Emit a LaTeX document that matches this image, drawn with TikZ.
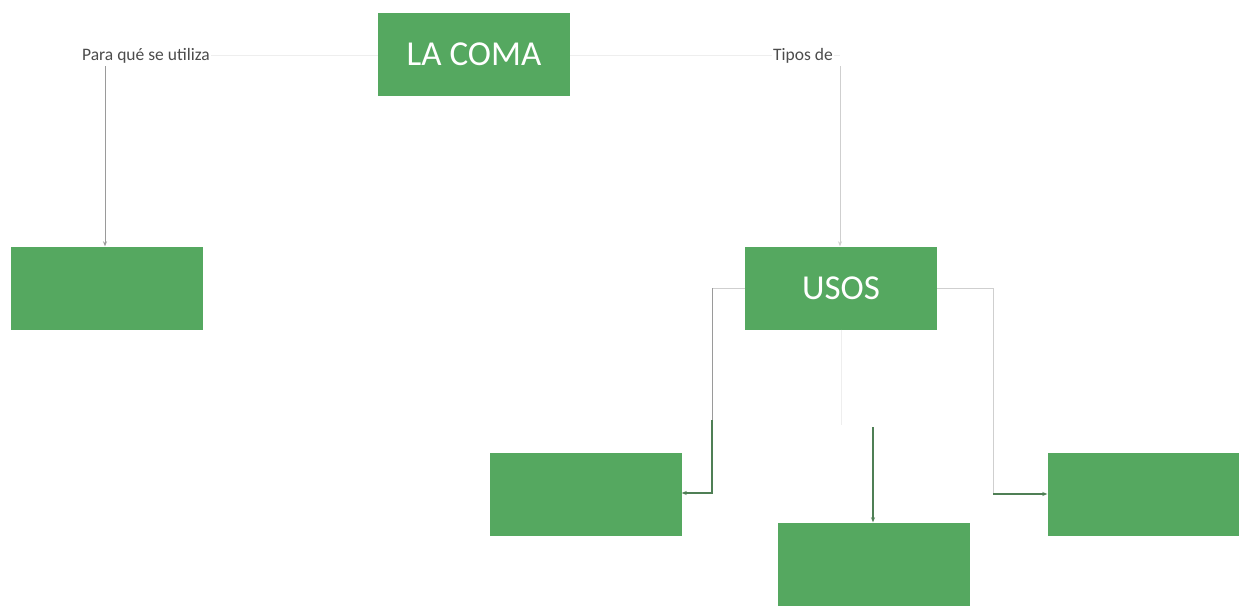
\documentclass[tikz,border=0pt]{standalone}
\usepackage{fontspec}
\setmainfont{Carlito}
\usetikzlibrary{arrows.meta}
\definecolor{boxgreen}{HTML}{55A860}
\definecolor{faintline}{HTML}{EEEEEE}
\definecolor{lightline}{HTML}{CFCFCF}
\definecolor{midline}{HTML}{9A9A9A}
\definecolor{darkline}{HTML}{4F7F55}
\tikzset{
  gbox/.style={fill=boxgreen, draw=none, minimum width=192pt, minimum height=83pt, inner sep=0pt, text=white, font=\fontsize{35}{38}\selectfont},
  faint line/.style={draw=faintline, line width=0.9pt},
  thin line/.style={draw=lightline, line width=0.9pt},
  mid line/.style={draw=midline, line width=1pt},
  dark line/.style={draw=darkline, line width=1.6pt},
  tip/.style={-{Stealth[length=5pt,width=4pt]}},
  lbl/.style={font=\fontsize{17.5}{20}\selectfont, text=black!70, inner sep=1pt, fill=white}
}
\begin{document}
\begin{tikzpicture}[x=1pt,y=-1pt]
\useasboundingbox (0,0) rectangle (1239,605);
% boxes
\node[gbox] (coma) at (474,54) {LA COMA};
\node[gbox] (left) at (107,288) {};
\node[gbox] (usos) at (841,288) {USOS};
\node[gbox] (a) at (585.5,494.5) {};
\node[gbox] (b) at (873.5,564) {};
\node[gbox] (c) at (1143.5,494.5) {};
% coordinates
\coordinate (lc) at (105,55);
\coordinate (lv) at (105,66);
\coordinate (rc) at (840,55);
\coordinate (rv) at (840,66);
\coordinate (ul) at (712,288);
\coordinate (ulb) at (712,493);
\coordinate (ur) at (993,288);
\coordinate (urb) at (993,494);
\coordinate (ub) at (841,425);
\coordinate (bt) at (873,427);
% left branch
\draw[faint line] (coma.west |- lc) -- (lc);
\draw[mid line, tip] (lv) -- (left.north -| lv);
\node[lbl] (l1) at (146,56) {Para qué se utiliza};
% right branch
\draw[faint line] (coma.east |- rc) -- (rc);
\draw[thin line, tip] (rv) -- (usos.north -| rv);
\node[lbl] (l2) at (803,56) {Tipos de};
% usos to a
\draw[thin line] (usos.west |- ul) -- (ul);
\draw[mid line] (ul) -- (712,420);
\draw[dark line, tip] (712,420) -- (ulb) -- (a.east |- ulb);
% usos to b
\draw[faint line] (usos.south) -- (ub);
\draw[dark line, tip] (bt) -- (b.north -| bt);
% usos to c
\draw[thin line] (usos.east |- ur) -- (ur) -- (urb);
\draw[dark line, tip] (urb) -- (c.west |- urb);
\end{tikzpicture}
\end{document}
